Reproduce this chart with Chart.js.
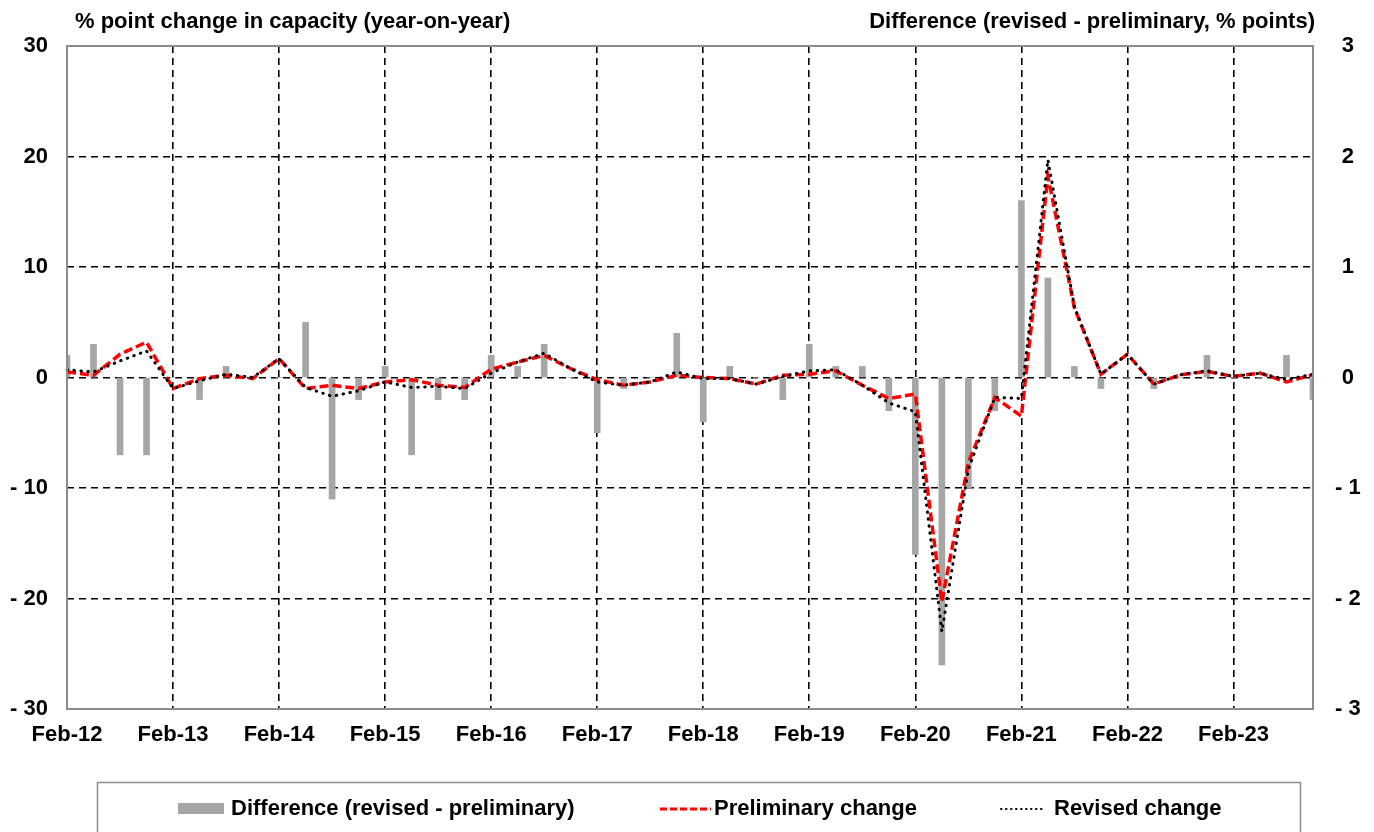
<!DOCTYPE html>
<html><head><meta charset="utf-8">
<script src="https://cdn.jsdelivr.net/npm/chart.js@4.4.1/dist/chart.umd.min.js"></script>
<style>html,body{margin:0;padding:0;background:#fff;}#wrap{width:1374px;height:832px;position:relative;overflow:hidden;}</style>
</head><body><div id="wrap"><canvas id="c" width="1374" height="832"></canvas></div>
<script>
const categories = [
 'Feb-12','May-12','Aug-12','Nov-12','Feb-13','May-13','Aug-13','Nov-13',
 'Feb-14','May-14','Aug-14','Nov-14','Feb-15','May-15','Aug-15','Nov-15',
 'Feb-16','May-16','Aug-16','Nov-16','Feb-17','May-17','Aug-17','Nov-17',
 'Feb-18','May-18','Aug-18','Nov-18','Feb-19','May-19','Aug-19','Nov-19',
 'Feb-20','May-20','Aug-20','Nov-20','Feb-21','May-21','Aug-21','Nov-21',
 'Feb-22','May-22','Aug-22','Nov-22','Feb-23','May-23','Aug-23','Nov-23'];
const difference = [
 0.2,0.3,-0.7,-0.7, 0,-0.2,0.1,0, 0,0.5,-1.1,-0.2, 0.1,-0.7,-0.2,-0.2,
 0.2,0.1,0.3,0, -0.5,-0.1,0,0.4, -0.4,0.1,0,-0.2, 0.3,0.1,0.1,-0.3,
 -1.6,-2.6,-1.0,-0.3, 1.6,0.9,0.1,-0.1, 0,-0.1,0,0.2, 0,0,0.2,-0.2];
const preliminary = [
 0.5,0.2,2.1,3.2, -1.0,-0.1,0.2,-0.1, 1.7,-1.0,-0.7,-1.0, -0.4,-0.2,-0.7,-0.9,
 0.75,1.4,2.0,0.8, -0.2,-0.7,-0.4,0.2, 0.0,-0.1,-0.6,0.2, 0.3,0.6,-0.7,-1.9,
 -1.5,-20.3,-7.7,-1.8, -3.5,18.2,6.3,0.3, 2.1,-0.6,0.25,0.55, 0.1,0.4,-0.4,0.25];
const revised = [
 0.7,0.5,1.5,2.4, -1.0,-0.3,0.3,0.0, 1.7,-0.9,-1.7,-1.2, -0.4,-0.9,-0.8,-1.0,
 0.4,1.4,2.2,0.8, -0.4,-0.7,-0.4,0.5, -0.1,-0.1,-0.6,0.1, 0.6,0.7,-0.7,-2.3,
 -3.1,-23.0,-8.3,-1.8, -1.9,19.7,6.4,0.3, 2.1,-0.6,0.25,0.6, 0.1,0.4,-0.2,0.3];
const leftAxis = {min:-30, max:30, step:10};
const rightAxis = {min:-3, max:3, step:1};
const leftTitle = '% point change in capacity (year-on-year)';
const rightTitle = 'Difference (revised - preliminary, % points)';
const seriesNames = ['Difference (revised - preliminary)','Preliminary change','Revised change'];

const FONT = '"Liberation Sans", Arial, sans-serif';
const fmt = v => v < 0 ? '- ' + Math.abs(v) : String(v);
const GREY = '#8c8c8c';

const deco = {
  id:'deco',
  afterDraw(chart){
    const {ctx, chartArea:a} = chart;
    ctx.save();
    ctx.strokeStyle = GREY; ctx.lineWidth = 2;
    ctx.strokeRect(a.left, a.top, a.right - a.left, a.bottom - a.top);
    ctx.fillStyle = '#000';
    ctx.font = 'bold 22px ' + FONT;
    ctx.textBaseline = 'alphabetic';
    ctx.textAlign = 'left';
    ctx.fillText(leftTitle, 75, 28);
    ctx.textAlign = 'right';
    ctx.fillText(rightTitle, 1315, 28);
    // legend box
    ctx.strokeStyle = GREY; ctx.lineWidth = 1.5;
    ctx.strokeRect(97.5, 782.5, 1203, 70);
    ctx.textAlign = 'left'; ctx.textBaseline = 'middle';
    const ly = 809;
    ctx.fillStyle = '#a6a6a6';
    ctx.fillRect(178, ly - 6, 46, 11);
    ctx.fillStyle = '#000';
    ctx.fillText(seriesNames[0], 231, ly);
    ctx.strokeStyle = '#ff0000'; ctx.lineWidth = 3; ctx.setLineDash([7,3]);
    ctx.beginPath(); ctx.moveTo(660, ly); ctx.lineTo(711, ly); ctx.stroke();
    ctx.fillText(seriesNames[1], 714, ly);
    ctx.strokeStyle = '#000'; ctx.lineWidth = 2; ctx.lineCap = 'round'; ctx.setLineDash([0.5,4.5]);
    ctx.beginPath(); ctx.moveTo(1001, ly); ctx.lineTo(1046, ly); ctx.stroke();
    ctx.setLineDash([]);
    ctx.fillText(seriesNames[2], 1054, ly);
    ctx.restore();
  }
};

new Chart(document.getElementById('c'), {
  type:'bar',
  data:{
    labels: categories,
    datasets:[
      {type:'bar', label:seriesNames[0], data:difference, yAxisID:'y2', backgroundColor:'#a6a6a6', barThickness:6, order:3},
      {type:'line', label:seriesNames[1], data:preliminary, yAxisID:'y', borderColor:'#ff0000', borderWidth:3.5, borderDash:[9,4], pointRadius:0, tension:0, fill:false, order:2},
      {type:'line', label:seriesNames[2], data:revised, yAxisID:'y', borderColor:'#000000', borderWidth:3, borderDash:[0.5,6.5], borderCapStyle:'round', pointRadius:0, tension:0, fill:false, order:1}
    ]
  },
  options:{
    responsive:false, animation:false,
    layout:{padding:{top:46, left:0, right:0, bottom:0}},
    plugins:{legend:{display:false}, tooltip:{enabled:false}},
    scales:{
      x:{type:'category', offset:false,
         grid:{offset:false, drawTicks:false, lineWidth:1.6, color: c => (c.index % 4 === 0) ? '#000' : 'rgba(0,0,0,0)'},
         border:{display:false, dash:[7,5]},
         ticks:{autoSkip:false, maxRotation:0, minRotation:0, padding:13, color:'#000', font:{family:FONT, size:22, weight:'bold'},
                callback:(v,i)=> i % 4 === 0 ? categories[i] : ''},
         afterFit: s => { s.height = 123; }},
      y:{position:'left', min:leftAxis.min, max:leftAxis.max,
         ticks:{stepSize:leftAxis.step, padding:19, color:'#000', font:{family:FONT, size:22, weight:'bold'}, callback: v => fmt(v)},
         grid:{drawTicks:false, lineWidth:1.6, color: c => (c.tick && Math.abs(c.tick.value) === 30) ? 'rgba(0,0,0,0)' : '#000'},
         border:{display:false, dash:[7,5]},
         afterFit: s => { s.width = 67; }},
      y2:{position:'right', min:rightAxis.min, max:rightAxis.max,
         ticks:{stepSize:rightAxis.step, padding:22, crossAlign:'center', color:'#000', font:{family:FONT, size:22, weight:'bold'}, callback: v => fmt(v)},
         grid:{drawOnChartArea:false, drawTicks:false},
         border:{display:false},
         afterFit: s => { s.width = 61; }}
    }
  },
  plugins:[deco]
});
</script></body></html>
